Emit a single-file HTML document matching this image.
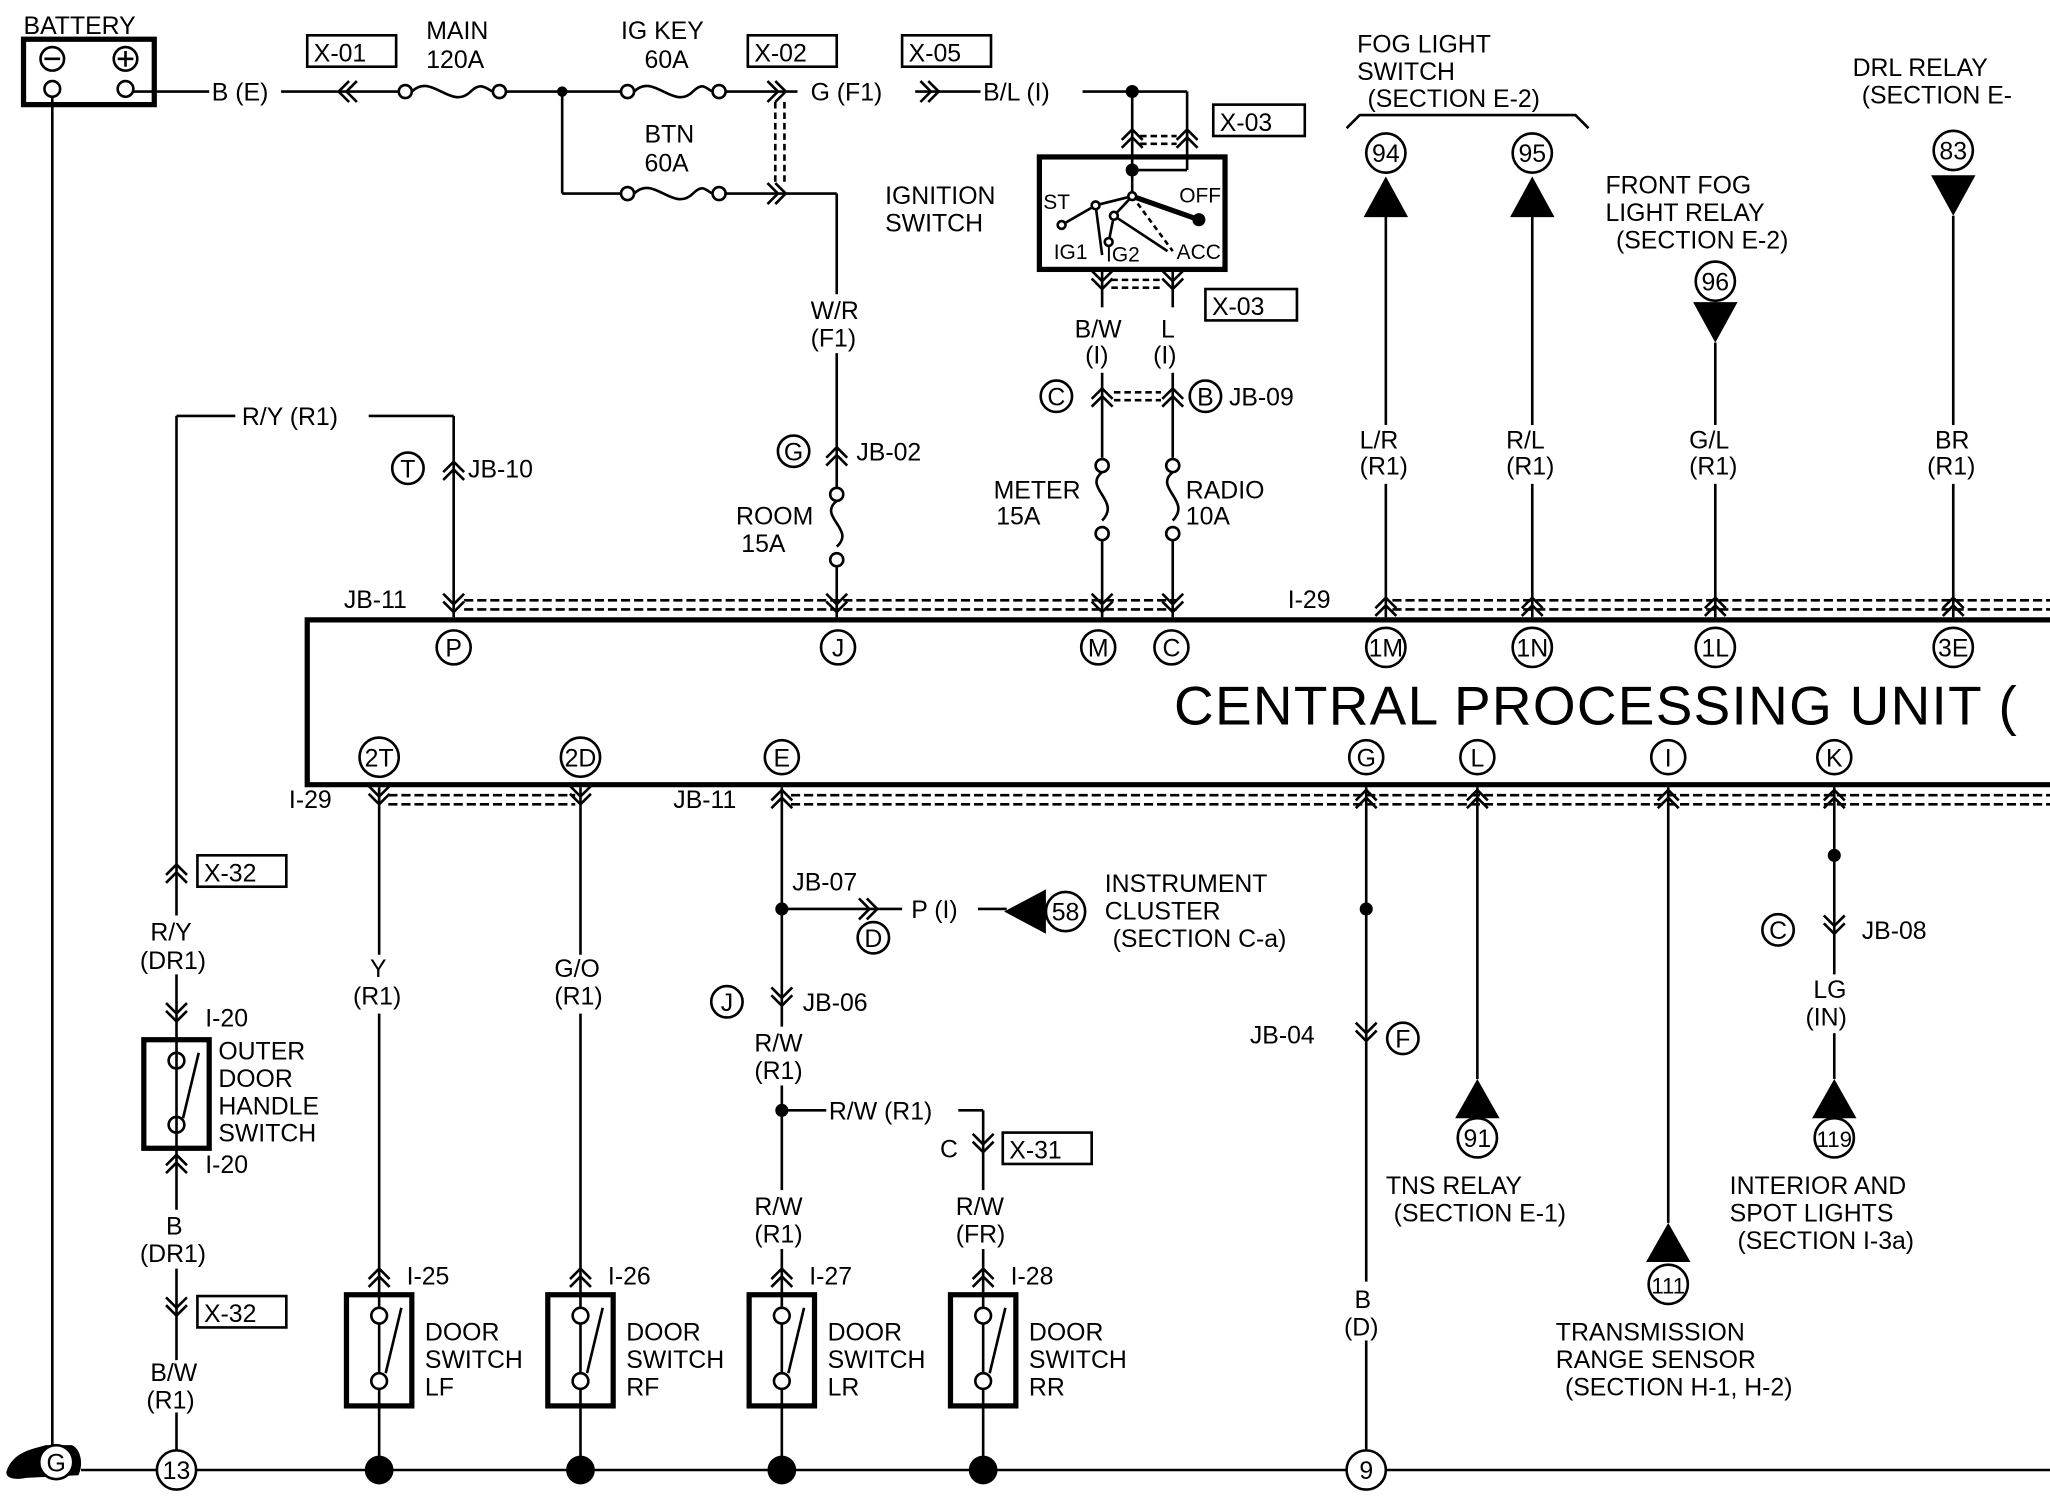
<!DOCTYPE html>
<html><head><style>
html,body{margin:0;padding:0;background:#fff;}
svg{display:block;}
text{font-family:"Liberation Sans",sans-serif;fill:#000;}
.c{text-anchor:middle;}
</style></head><body>
<svg width="2050" height="1504" viewBox="0 0 1568 1150" preserveAspectRatio="none" xmlns="http://www.w3.org/2000/svg" font-size="19">
<defs>
<path id="cu" d="M-8 5 L0 -3 L8 5 M-8 11 L0 3 L8 11" fill="none" stroke="#000" stroke-width="2"/>
<path id="cd" d="M-8 -5 L0 3 L8 -5 M-8 -11 L0 -3 L8 -11" fill="none" stroke="#000" stroke-width="2"/>
<path id="cr" d="M-5 -8 L3 0 L-5 8 M-11 -8 L-3 0 L-11 8" fill="none" stroke="#000" stroke-width="2"/>
<path id="cl" d="M5 -8 L-3 0 L5 8 M11 -8 L3 0 L11 8" fill="none" stroke="#000" stroke-width="2"/>
</defs>
<g stroke="#000" stroke-width="2" fill="none">
<rect x="18" y="30" width="100" height="50" stroke-width="4"/>
<circle cx="40" cy="45" r="9"/><line x1="34" y1="45" x2="46" y2="45"/>
<circle cx="96" cy="45" r="9"/><line x1="90" y1="45" x2="102" y2="45"/><line x1="96" y1="39" x2="96" y2="51"/>
<circle cx="40" cy="68" r="6"/><circle cx="96" cy="68" r="6"/>
<line x1="40" y1="74" x2="40" y2="1110"/>
<line x1="102" y1="70" x2="160" y2="70"/>
<line x1="215" y1="70" x2="305" y2="70"/>
<circle cx="310" cy="70" r="5"/><path d="M315 70 C330 55 345 85 360 70 C368 62 372 68 377 70"/><circle cx="382" cy="70" r="5"/>
<line x1="387" y1="70" x2="475" y2="70"/>
<circle cx="480" cy="70" r="5"/><path d="M485 70 C500 55 515 85 530 70 C538 62 540 68 545 70"/><circle cx="550" cy="70" r="5"/>
<line x1="555" y1="70" x2="610" y2="70"/>
<line x1="700" y1="70" x2="750" y2="70"/>
<line x1="828" y1="70" x2="908" y2="70"/>
<line x1="908" y1="70" x2="908" y2="130"/><line x1="908" y1="130" x2="866" y2="130"/>
<line x1="866" y1="70" x2="866" y2="140"/>
<line x1="430" y1="70" x2="430" y2="148"/><line x1="430" y1="148" x2="475" y2="148"/>
<circle cx="480" cy="148" r="5"/><path d="M485 148 C500 133 515 163 530 148 C538 140 540 146 545 148"/><circle cx="550" cy="148" r="5"/>
<line x1="555" y1="148" x2="640" y2="148"/>
<line x1="640" y1="148" x2="640" y2="225"/>
<line x1="640" y1="270" x2="640" y2="372"/>
<circle cx="640" cy="378" r="5"/><path d="M640 383 C625 395 655 405 640 418"/><circle cx="640" cy="428" r="5"/>
<line x1="640" y1="433" x2="640" y2="472"/>
<path d="M593 78 V140 M600 78 V140" stroke-dasharray="5 3"/>
<rect x="795" y="120" width="142" height="86" stroke-width="4"/>
<line x1="866" y1="140" x2="866" y2="150"/>
<line x1="866" y1="150" x2="917" y2="168" stroke-width="4"/>
<line x1="866" y1="150" x2="838" y2="157"/><line x1="866" y1="150" x2="852" y2="165"/>
<line x1="838" y1="157" x2="812" y2="172"/><line x1="852" y1="165" x2="848" y2="185"/>
<line x1="838" y1="157" x2="843" y2="195"/><line x1="866" y1="150" x2="897" y2="192" stroke-dasharray="4 3"/>
<line x1="852" y1="165" x2="893" y2="192"/>
<line x1="843" y1="206" x2="843" y2="235"/><line x1="897" y1="206" x2="897" y2="235"/>
<path d="M850 214 H890 M850 220 H890" stroke-dasharray="5 3"/>
<path d="M872 104 H900 M872 110 H900" stroke-dasharray="5 3"/>
<line x1="843" y1="285" x2="843" y2="350"/><line x1="897" y1="285" x2="897" y2="350"/>
<path d="M852 300 H888 M852 306 H888" stroke-dasharray="5 3"/>
<circle cx="843" cy="356" r="5"/><path d="M843 361 C828 373 858 383 843 398"/><circle cx="843" cy="408" r="5"/>
<circle cx="897" cy="356" r="5"/><path d="M897 361 C882 373 912 383 897 398"/><circle cx="897" cy="408" r="5"/>
<line x1="843" y1="413" x2="843" y2="472"/><line x1="897" y1="413" x2="897" y2="472"/>
<line x1="135" y1="318" x2="180" y2="318"/><line x1="282" y1="318" x2="347" y2="318"/>
<line x1="347" y1="318" x2="347" y2="472"/>
<line x1="135" y1="318" x2="135" y2="700"/><line x1="135" y1="745" x2="135" y2="925"/>
<line x1="135" y1="970" x2="135" y2="1040"/><line x1="135" y1="1080" x2="135" y2="1110"/>
<rect x="110" y="795" width="50" height="83" stroke-width="4"/>
<circle cx="135" cy="811" r="6"/><circle cx="135" cy="860" r="6"/><line x1="140" y1="855" x2="152" y2="805"/>
<path d="M1568 474 H235 V600 H1568" stroke-width="4"/>
<path d="M355 459 H900 M355 466 H900 M1065 459 H1568 M1065 466 H1568" stroke-dasharray="7 3"/>
<path d="M297 608 H440 M297 615 H440 M605 608 H1568 M605 615 H1568" stroke-dasharray="7 3"/>
<line x1="1060" y1="160" x2="1060" y2="325"/><line x1="1060" y1="370" x2="1060" y2="472"/>
<line x1="1172" y1="160" x2="1172" y2="325"/><line x1="1172" y1="370" x2="1172" y2="472"/>
<line x1="1312" y1="262" x2="1312" y2="325"/><line x1="1312" y1="370" x2="1312" y2="472"/>
<line x1="1494" y1="165" x2="1494" y2="325"/><line x1="1494" y1="370" x2="1494" y2="472"/>
<line x1="290" y1="602" x2="290" y2="730"/><line x1="290" y1="775" x2="290" y2="1124"/>
<line x1="444" y1="602" x2="444" y2="730"/><line x1="444" y1="775" x2="444" y2="1124"/>
<line x1="598" y1="602" x2="598" y2="785"/><line x1="598" y1="830" x2="598" y2="910"/><line x1="598" y1="955" x2="598" y2="1124"/>
<line x1="598" y1="849" x2="632" y2="849"/><line x1="733" y1="849" x2="752" y2="849"/>
<line x1="752" y1="849" x2="752" y2="910"/><line x1="752" y1="955" x2="752" y2="1124"/>
<line x1="598" y1="695" x2="690" y2="695"/><line x1="748" y1="695" x2="770" y2="695"/>
<line x1="1045" y1="602" x2="1045" y2="980"/><line x1="1045" y1="1025" x2="1045" y2="1110"/>
<line x1="1130" y1="602" x2="1130" y2="825"/>
<line x1="1276" y1="602" x2="1276" y2="935"/>
<line x1="1403" y1="602" x2="1403" y2="745"/><line x1="1403" y1="790" x2="1403" y2="825"/>
<rect x="265" y="990" width="50" height="85" stroke-width="4"/>
<rect x="419" y="990" width="50" height="85" stroke-width="4"/>
<rect x="573" y="990" width="50" height="85" stroke-width="4"/>
<rect x="727" y="990" width="50" height="85" stroke-width="4"/>
<line x1="62" y1="1124" x2="1568" y2="1124"/>
<path d="M1030 98 L1040 88 H1205 L1215 98"/>
<rect x="235" y="27" width="68" height="24"/><rect x="572" y="27" width="68" height="24"/>
<rect x="690" y="27" width="68" height="24"/><rect x="928" y="80" width="70" height="24"/>
<rect x="922" y="221" width="70" height="24"/><rect x="151" y="654" width="68" height="24"/>
<rect x="151" y="991" width="68" height="24"/><rect x="767" y="866" width="68" height="24"/>
</g>
<g stroke="#000" stroke-width="2" fill="#fff">
<circle cx="290" cy="1006" r="6"/><circle cx="290" cy="1056" r="6"/>
<circle cx="444" cy="1006" r="6"/><circle cx="444" cy="1056" r="6"/>
<circle cx="598" cy="1006" r="6"/><circle cx="598" cy="1056" r="6"/>
<circle cx="752" cy="1006" r="6"/><circle cx="752" cy="1056" r="6"/>
<line x1="295" y1="1050" x2="307" y2="1000"/><line x1="449" y1="1050" x2="461" y2="1000"/>
<line x1="603" y1="1050" x2="615" y2="1000"/><line x1="757" y1="1050" x2="769" y2="1000"/>
<circle cx="812" cy="172" r="3"/><circle cx="838" cy="157" r="3"/><circle cx="852" cy="165" r="3"/><circle cx="848" cy="185" r="3"/><circle cx="866" cy="150" r="3"/>
</g>
<g fill="#000">
<circle cx="430" cy="70" r="4"/><circle cx="866" cy="70" r="5"/><circle cx="866" cy="130" r="5"/><circle cx="917" cy="168" r="5"/>
<circle cx="598" cy="695" r="5"/><circle cx="598" cy="849" r="5"/><circle cx="1045" cy="695" r="5"/><circle cx="1403" cy="654" r="5"/>
<circle cx="290" cy="1124" r="11"/><circle cx="444" cy="1124" r="11"/><circle cx="598" cy="1124" r="11"/><circle cx="752" cy="1124" r="11"/>
<path d="M1060 135 L1043 166 L1077 166Z"/><path d="M1172 135 L1155 166 L1189 166Z"/>
<path d="M1312 262 L1295 231 L1329 231Z"/><path d="M1494 165 L1477 134 L1511 134Z"/>
<path d="M1130 825 L1113 855 L1147 855Z"/><path d="M1276 935 L1259 965 L1293 965Z"/><path d="M1403 825 L1386 855 L1420 855Z"/>
<path d="M768 697 L800 680 L800 714Z"/>
<path d="M5 1125 C10 1110 25 1108 35 1105 L55 1105 C62 1108 64 1120 60 1128 L20 1130 C10 1132 4 1130 5 1125Z"/>
</g>
<use href="#cl" x="262" y="70"/><use href="#cr" x="598" y="70"/><use href="#cr" x="715" y="70"/><use href="#cr" x="598" y="148"/>
<use href="#cu" x="866" y="102"/><use href="#cu" x="908" y="102"/>
<use href="#cd" x="843" y="218"/><use href="#cd" x="897" y="218"/>
<use href="#cu" x="843" y="300"/><use href="#cu" x="897" y="300"/>
<use href="#cu" x="347" y="356"/><use href="#cu" x="640" y="345"/>
<use href="#cd" x="347" y="465"/><use href="#cd" x="640" y="465"/><use href="#cd" x="843" y="465"/><use href="#cd" x="897" y="465"/>
<use href="#cu" x="1060" y="460"/><use href="#cu" x="1172" y="460"/><use href="#cu" x="1312" y="460"/><use href="#cu" x="1494" y="460"/>
<use href="#cd" x="290" y="612"/><use href="#cd" x="444" y="612"/><use href="#cu" x="598" y="607"/>
<use href="#cu" x="1045" y="607"/><use href="#cu" x="1130" y="607"/><use href="#cu" x="1276" y="607"/><use href="#cu" x="1403" y="607"/>
<use href="#cu" x="135" y="664"/><use href="#cd" x="135" y="778"/><use href="#cu" x="135" y="886"/><use href="#cd" x="135" y="1003"/>
<use href="#cu" x="290" y="973"/><use href="#cu" x="444" y="973"/><use href="#cu" x="598" y="973"/><use href="#cu" x="752" y="973"/>
<use href="#cr" x="668" y="695"/><use href="#cd" x="598" y="766"/><use href="#cd" x="752" y="878"/><use href="#cd" x="1045" y="793"/><use href="#cd" x="1403" y="711"/>
<g stroke="#000" stroke-width="2" fill="#fff">
<circle cx="347" cy="495" r="13"/><circle cx="641" cy="495" r="13"/><circle cx="840" cy="495" r="13"/><circle cx="896" cy="495" r="13"/>
<circle cx="1060" cy="495" r="15"/><circle cx="1172" cy="495" r="15"/><circle cx="1312" cy="495" r="15"/><circle cx="1494" cy="495" r="15"/>
<circle cx="290" cy="579" r="15"/><circle cx="444" cy="579" r="15"/><circle cx="598" cy="579" r="13"/>
<circle cx="1045" cy="579" r="13"/><circle cx="1130" cy="579" r="13"/><circle cx="1276" cy="579" r="13"/><circle cx="1403" cy="579" r="13"/>
<circle cx="1060" cy="117" r="15"/><circle cx="1172" cy="117" r="15"/><circle cx="1312" cy="215" r="15"/><circle cx="1494" cy="115" r="15"/>
<circle cx="1130" cy="870" r="15"/><circle cx="1276" cy="982" r="15"/><circle cx="1403" cy="870" r="15"/><circle cx="815" cy="697" r="15"/>
<circle cx="135" cy="1124" r="15"/><circle cx="1045" cy="1124" r="15"/>
<circle cx="312" cy="358" r="12"/><circle cx="607" cy="345" r="12"/><circle cx="808" cy="303" r="12"/><circle cx="922" cy="303" r="12"/>
<circle cx="668" cy="717" r="12"/><circle cx="556" cy="766" r="12"/><circle cx="1073" cy="794" r="12"/><circle cx="1360" cy="711" r="12"/>
<circle cx="43" cy="1118" r="13"/>
</g>
<g text-anchor="middle">
<text x="347" y="502">P</text><text x="641" y="502">J</text><text x="840" y="502">M</text><text x="896" y="502">C</text>
<text x="1060" y="502">1M</text><text x="1172" y="502">1N</text><text x="1312" y="502">1L</text><text x="1494" y="502">3E</text>
<text x="290" y="586">2T</text><text x="444" y="586">2D</text><text x="598" y="586">E</text>
<text x="1045" y="586">G</text><text x="1130" y="586">L</text><text x="1276" y="586">I</text><text x="1403" y="586">K</text>
<text x="1060" y="124">94</text><text x="1172" y="124">95</text><text x="1312" y="222">96</text><text x="1494" y="122">83</text>
<text x="1130" y="877">91</text><text x="1276" y="989" style="font-size:17px">111</text><text x="1403" y="877" style="font-size:17px">119</text><text x="815" y="704">58</text>
<text x="135" y="1131">13</text><text x="1045" y="1131">9</text>
<text x="312" y="365">T</text><text x="607" y="352">G</text><text x="808" y="310">C</text><text x="922" y="310">B</text>
<text x="668" y="724">D</text><text x="556" y="773">J</text><text x="1073" y="801">F</text><text x="1360" y="718">C</text>
<text x="43" y="1125">G</text>
</g>
<text x="18" y="26">BATTERY</text>
<text x="162" y="77">B (E)</text>
<text x="240" y="47">X-01</text><text x="577" y="47">X-02</text><text x="695" y="47">X-05</text>
<text x="933" y="100">X-03</text><text x="927" y="241">X-03</text>
<text x="156" y="674">X-32</text><text x="156" y="1011">X-32</text><text x="772" y="886">X-31</text>
<text x="326" y="30">MAIN</text><text x="326" y="52">120A</text>
<text x="475" y="30">IG KEY</text><text x="493" y="52">60A</text>
<text x="493" y="109">BTN</text><text x="493" y="131">60A</text>
<text x="620" y="77">G (F1)</text><text x="752" y="77">B/L (I)</text>
<text x="677" y="156">IGNITION</text><text x="677" y="177">SWITCH</text>
<text x="798" y="160" style="font-size:16px">ST</text><text x="902" y="155" style="font-size:16px">OFF</text>
<text x="806" y="198" style="font-size:16px">IG1</text><text x="846" y="200" style="font-size:16px">IG2</text><text x="900" y="198" style="font-size:16px">ACC</text>
<text x="822" y="258">B/W</text><text x="830" y="278">(I)</text><text x="888" y="258">L</text><text x="882" y="278">(I)</text>
<text x="940" y="310">JB-09</text>
<text x="760" y="381">METER</text><text x="762" y="401">15A</text>
<text x="907" y="381">RADIO</text><text x="907" y="401">10A</text>
<text x="620" y="244">W/R</text><text x="620" y="265">(F1)</text>
<text x="655" y="352">JB-02</text>
<text x="563" y="401">ROOM</text><text x="567" y="422">15A</text>
<text x="185" y="325">R/Y (R1)</text><text x="358" y="365">JB-10</text>
<text x="263" y="465">JB-11</text><text x="985" y="465">I-29</text>
<text x="1038" y="40">FOG LIGHT</text><text x="1038" y="61">SWITCH</text><text x="1046" y="82">(SECTION E-2)</text>
<text x="1417" y="58">DRL RELAY</text><text x="1424" y="79">(SECTION E-</text>
<text x="1228" y="148">FRONT FOG</text><text x="1228" y="169">LIGHT RELAY</text><text x="1236" y="190">(SECTION E-2)</text>
<text x="1040" y="343">L/R</text><text x="1040" y="363">(R1)</text>
<text x="1152" y="343">R/L</text><text x="1152" y="363">(R1)</text>
<text x="1292" y="343">G/L</text><text x="1292" y="363">(R1)</text>
<text x="1480" y="343">BR</text><text x="1474" y="363">(R1)</text>
<text x="898" y="554" style="font-size:42px;letter-spacing:1px">CENTRAL  PROCESSING  UNIT (</text>
<text x="221" y="618">I-29</text><text x="515" y="618">JB-11</text>
<text x="115" y="719">R/Y</text><text x="107" y="741">(DR1)</text>
<text x="157" y="785">I-20</text><text x="157" y="897">I-20</text>
<text x="167" y="810">OUTER</text><text x="167" y="831">DOOR</text><text x="167" y="852">HANDLE</text><text x="167" y="873">SWITCH</text>
<text x="127" y="944">B</text><text x="107" y="965">(DR1)</text>
<text x="115" y="1056">B/W</text><text x="112" y="1077">(R1)</text>
<text x="283" y="747">Y</text><text x="270" y="768">(R1)</text>
<text x="424" y="747">G/O</text><text x="424" y="768">(R1)</text>
<text x="606" y="681">JB-07</text><text x="697" y="702">P (I)</text>
<text x="845" y="682">INSTRUMENT</text><text x="845" y="703">CLUSTER</text><text x="851" y="724">(SECTION C-a)</text>
<text x="614" y="773">JB-06</text>
<text x="577" y="804">R/W</text><text x="577" y="825">(R1)</text>
<text x="634" y="856">R/W (R1)</text>
<text x="719" y="885">C</text>
<text x="577" y="929">R/W</text><text x="577" y="950">(R1)</text>
<text x="731" y="929">R/W</text><text x="731" y="950">(FR)</text>
<text x="311" y="982">I-25</text><text x="465" y="982">I-26</text><text x="619" y="982">I-27</text><text x="773" y="982">I-28</text>
<text x="325" y="1025">DOOR</text><text x="325" y="1046">SWITCH</text><text x="325" y="1067">LF</text>
<text x="479" y="1025">DOOR</text><text x="479" y="1046">SWITCH</text><text x="479" y="1067">RF</text>
<text x="633" y="1025">DOOR</text><text x="633" y="1046">SWITCH</text><text x="633" y="1067">LR</text>
<text x="787" y="1025">DOOR</text><text x="787" y="1046">SWITCH</text><text x="787" y="1067">RR</text>
<text x="956" y="798">JB-04</text>
<text x="1036" y="1000">B</text><text x="1028" y="1021">(D)</text>
<text x="1060" y="913">TNS RELAY</text><text x="1066" y="934">(SECTION E-1)</text>
<text x="1190" y="1025">TRANSMISSION</text><text x="1190" y="1046">RANGE SENSOR</text><text x="1197" y="1067">(SECTION H-1, H-2)</text>
<text x="1424" y="718">JB-08</text>
<text x="1387" y="763">LG</text><text x="1381" y="784">(IN)</text>
<text x="1323" y="913">INTERIOR AND</text><text x="1323" y="934">SPOT LIGHTS</text><text x="1329" y="955">(SECTION I-3a)</text>
</svg>
</body></html>
